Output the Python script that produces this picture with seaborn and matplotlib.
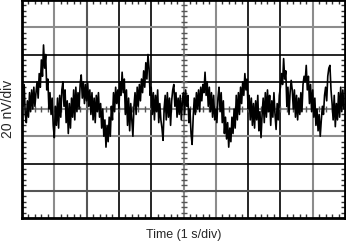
import numpy as np
import pandas as pd
import matplotlib
matplotlib.use("Agg")
import matplotlib.pyplot as plt
import seaborn as sns

# Noise trace values (nV), 30 samples per 1 s division
div0 = [14, 2, 18, -4, -10, 6, -6, 12, -2, 14, 0, 16, 2, 12, 20, 8, 26, 16, 36, 24,
        47, 30, 40, 14, 22, 0, 12, -4, 8, -12]
div1 = [-21, 2, -12, 8, -14, 10, -6, 14, 20, 2, 14, -10, 6, -18, 4, -14, 8, -6, 14, -8,
        16, -2, 12, 0, 18, 25, 8, 20, 4, 18]
div2 = [6, 19, 2, 14, -4, 12, -8, 8, -10, 10, -2, 12, -6, 4, -14, 0, -20, -8, -28, -12,
        -24, -6, -20, 2, -8, 12, -2, 16, 4, 14]
div3 = [0, 20, 10, 27, 12, 22, -4, 14, -12, 8, -16, 4, -8, -20, 2, 12, -4, 16, 2, 18,
        6, 22, 12, 28, 16, 34, 22, 40, 30, 10]
div4 = [16, -4, 12, -8, 10, -2, 14, -10, 4, -8, -14, -23, 0, 10, -8, 12, -6, 8, -12, 6,
        14, 18, 2, 12, -6, 8, -4, 10, -8, 6]
div5 = [12, -4, 14, 2, 10, -10, 0, -18, -26, -6, 8, -4, 12, 0, 14, -2, 16, 6, 18, 12,
        27, 10, 20, 2, 16, -2, 12, -6, 10, -8]
div6 = [0, -10, 8, 16, -2, 12, -10, 6, -18, -6, -22, -10, -28, -14, -24, -6, -18, 0, -14, 10,
        -8, 12, -4, 16, 4, 20, 10, 26, 14, 22]
div7 = [0, 10, -8, 8, -12, 4, -14, 6, -8, 10, -16, -2, -21, -4, 8, -10, 12, -6, 14, -2,
        10, -12, 6, -6, 12, -4, -15, 4, -8, 10]
div8 = [16, 26, 18, 37, 22, 28, 2, 16, -4, 12, 21, 14, 0, 14, -6, 10, -8, 8, -4, 12,
        -2, 18, 24, 20, 32, 14, 24, 4, 18, -2]
div9 = [14, -6, 8, -12, 0, -16, -4, -20, -8, 2, -4, 10, 16, 6, 24, 30, 32, 14, 4, -8,
        10, -13, 4, -8, 12, -6, 16, -2, 14, 0]

values = div0 + div1 + div2 + div3 + div4 + div5 + div6 + div7 + div8 + div9
time_s = np.linspace(0, 10, len(values), endpoint=False)

x_label = "Time (1 s/div)"
y_label = "20 nV/div"

df = pd.DataFrame({"t": time_s, "v": values})

sns.set_style("white")
plt.rcParams["font.family"] = ["Liberation Sans", "DejaVu Sans"]

fig = plt.figure(figsize=(3.46, 2.42), dpi=100)
ax = fig.add_axes([22 / 346, 1 - 218 / 242, 323 / 346, 218 / 242])

ax.set_xlim(0, 10)
ax.set_ylim(-80, 80)

# Graticule
vcolors = ["#8c8c8c", "#555555", "#000000", "#000000", None, "#8c8c8c", "#000000", "#000000", "#8c8c8c"]
for k, c in zip(range(1, 10), vcolors):
    if c is not None:
        ax.axvline(k, color=c, lw=1.2 if c == "#000000" else 1.5, zorder=1)
hcolors = {60: "#8c8c8c", 40: "#000000", 20: "#000000", -20: "#8c8c8c", -40: "#000000", -60: "#555555"}
for yv, c in hcolors.items():
    ax.axhline(yv, color=c, lw=1.2 if c == "#000000" else 1.5, zorder=1)
ax.axhline(0, color="#8c8c8c", lw=1.5, zorder=1)
ax.axvline(5, color="#8c8c8c", lw=1.5, zorder=1)
# center-line minor marks
mx = np.arange(0.2, 10, 0.2)
ax.plot(mx, np.zeros_like(mx), linestyle="none", marker="|", markersize=4, color="#555555", mew=1, zorder=1)
my = np.arange(-76, 80, 4)
ax.plot(np.full_like(my, 5.0, dtype=float), my, linestyle="none", marker="_", markersize=4, color="#555555", mew=1, zorder=1)

sns.lineplot(data=df, x="t", y="v", ax=ax, color="black", linewidth=1.2, zorder=3)

ax.set_xticks(np.arange(0, 11, 1))
ax.set_yticks(np.arange(-80, 81, 20))
ax.set_xticks(np.arange(0, 10.01, 0.2), minor=True)
ax.set_yticks(np.arange(-80, 80.1, 4), minor=True)
ax.tick_params(which="both", direction="in", top=True, right=True, bottom=True, left=True,
               labelbottom=False, labelleft=False, color="#333333")
ax.tick_params(which="major", length=0)
ax.tick_params(which="minor", length=3, width=1)

for s in ax.spines.values():
    s.set_color("black")
    s.set_linewidth(2)

ax.set_xlabel(x_label, fontsize=9, labelpad=8)
ax.set_ylabel(y_label, fontsize=10, labelpad=5)

fig.savefig("out.png", dpi=100)
